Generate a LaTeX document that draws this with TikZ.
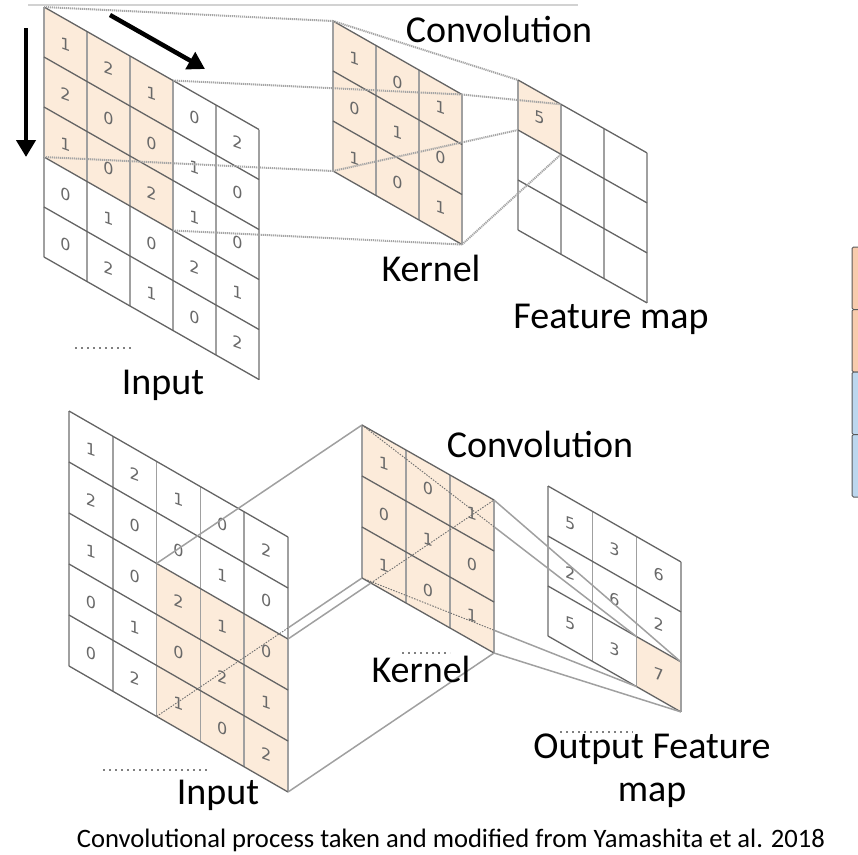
\documentclass[tikz,border=0pt]{standalone}
\usepackage{fontspec}
\setmainfont{Carlito}
\newfontfamily\digitfont{DejaVu Sans}
\usetikzlibrary{arrows.meta,calc}

\definecolor{cellhl}{RGB}{252,235,218}
\definecolor{gridv}{RGB}{160,160,160}
\definecolor{gridh}{RGB}{100,100,100}
\definecolor{digitgray}{RGB}{105,105,105}
\definecolor{linkgray}{RGB}{165,165,165}
\definecolor{hiddengray}{RGB}{110,110,110}
\definecolor{barorange}{RGB}{248,203,173}
\definecolor{barblue}{RGB}{189,215,238}
\definecolor{barline}{RGB}{90,90,90}

\tikzset{
  vline/.style={draw=gridv, line width=1.6pt},
  hline/.style={draw=gridh, line width=1.3pt},
  digit/.style={font=\digitfont\fontsize{16}{16}\selectfont, text=digitgray, inner sep=0pt, yslant=-0.35},
  bigtext/.style={font=\fontsize{38}{40}\selectfont, inner sep=0pt, anchor=base},
  captext/.style={font=\fontsize{26.6}{28}\selectfont, inner sep=0pt, anchor=base},
  dotlink/.style={draw=linkgray, line width=2pt, dash pattern=on 1.2pt off 0.8pt},
  solidlink/.style={draw=gridv, line width=1.5pt},
  hiddenlink/.style={draw=hiddengray, line width=0.9pt, dash pattern=on 1.5pt off 1.3pt},
  movearrow/.style={draw=black, line width=4.5pt, -{Triangle[width=19pt,length=17pt]}},
  barcell/.style={draw=barline, line width=1pt},
  scrap/.style={draw=gray, line width=1.6pt, dash pattern=on 2pt off 4pt},
}

\begin{document}
\begin{tikzpicture}[x=1pt,y=-1pt]
\useasboundingbox (0,0) rectangle (858,854);

% thin rule along the top edge
\draw[draw=gray!35, line width=1.2pt] (28,5) -- (578,5);

% ---------------- first step: window at the top-left corner ----------------
% input 5x5
\begin{scope}[shift={(44,7)}, x={(43pt,-24.5pt)}, y={(0pt,-50pt)}]
  \fill[cellhl] (0,0) -- (3,0) -- (3,3) -- (0,3) -- cycle;
  \foreach \i in {0,...,5} \draw[vline] (\i,0) -- (\i,5);
  \foreach \j in {0,...,5} \draw[hline] (0,\j) -- (5,\j);
  \foreach \row [count=\j from 0] in {{1,2,1,0,2},{2,0,0,1,0},{1,0,2,1,0},{0,1,0,2,1},{0,2,1,0,2}}
    \foreach \v [count=\i from 0] in \row
      \node[digit] (tin-\j-\i) at (\i+0.5,\j+0.5) {\v};
  \coordinate (tinTL) at (0,0);
  \coordinate (tinTR) at (3,0);
  \coordinate (tinBL) at (0,3);
  \coordinate (tinBR) at (3,3);
\end{scope}

% kernel 3x3
\begin{scope}[shift={(333,21)}, x={(43pt,-24.5pt)}, y={(0pt,-50pt)}]
  \fill[cellhl] (0,0) -- (3,0) -- (3,3) -- (0,3) -- cycle;
  \foreach \i in {0,...,3} \draw[vline] (\i,0) -- (\i,3);
  \foreach \j in {0,...,3} \draw[hline] (0,\j) -- (3,\j);
  \foreach \row [count=\j from 0] in {{1,0,1},{0,1,0},{1,0,1}}
    \foreach \v [count=\i from 0] in \row
      \node[digit] (tk-\j-\i) at (\i+0.5,\j+0.5) {\v};
  \coordinate (tkTL) at (0,0);
  \coordinate (tkTR) at (3,0);
  \coordinate (tkBL) at (0,3);
  \coordinate (tkBR) at (3,3);
\end{scope}

% feature map 3x3
\begin{scope}[shift={(518,80)}, x={(43pt,-24.3pt)}, y={(0pt,-50pt)}]
  \fill[cellhl] (0,0) -- (1,0) -- (1,1) -- (0,1) -- cycle;
  \foreach \i in {0,...,3} \draw[vline] (\i,0) -- (\i,3);
  \foreach \j in {0,...,3} \draw[hline] (0,\j) -- (3,\j);
  \node[digit] (tf-0-0) at (0.5,0.5) {5};
  \coordinate (tfTL) at (0,0);
  \coordinate (tfTR) at (1,0);
  \coordinate (tfBL) at (0,1);
  \coordinate (tfBR) at (1,1);
\end{scope}

% projection lines
\draw[dotlink] (tinTL) -- (tkTL);
\draw[dotlink] (tinTR) -- (tkTR);
\draw[dotlink] (tinBL) -- (tkBL);
\draw[dotlink] (tinBR) -- (tkBR);
\draw[dotlink] (tkTL) -- (tfTL);
\draw[dotlink] (tkTR) -- (tfTR);
\draw[dotlink] (tkBL) -- (tfBL);
\draw[dotlink] (tkBR) -- (tfBR);

% sliding directions
\coordinate (downA) at (26,28);
\coordinate (downB) at (26,157);
\coordinate (diagA) at (110,15);
\coordinate (diagB) at (205,69);
\draw[movearrow] (downA) -- (downB);
\draw[movearrow] (diagA) -- (diagB);

% labels
\node[bigtext] (convTop) at (499,42) {Convolution};
\node[bigtext] (kernTop) at (431,281) {Kernel};
\node[bigtext] (featTop) at (611,328) {Feature map};
\node[bigtext] (inTop) at (163,394) {Input};
\draw[scrap] (75,348) -- (133,348);

% stacked bar at the right edge
\begin{scope}
  \clip (0,0) rectangle (858,854);
  \filldraw[barcell, fill=barorange, rounded corners=1.5pt] (852,247) rectangle (872,309.5);
  \filldraw[barcell, fill=barorange, rounded corners=1.5pt] (852,309.5) rectangle (872,372);
  \filldraw[barcell, fill=barblue, rounded corners=1.5pt] (852,372) rectangle (872,434.5);
  \filldraw[barcell, fill=barblue, rounded corners=1.5pt] (852,434.5) rectangle (872,497);
\end{scope}

% ---------------- last step: window at the bottom-right corner ----------------
% input 5x5
\begin{scope}[shift={(69,411)}, x={(43.8pt,-25.2pt)}, y={(0pt,-51pt)}]
  \fill[cellhl] (2,2) -- (5,2) -- (5,5) -- (2,5) -- cycle;
  \foreach \i in {0,...,5} \draw[vline] (\i,0) -- (\i,5);
  \foreach \j in {0,...,5} \draw[hline] (0,\j) -- (5,\j);
  \foreach \row [count=\j from 0] in {{1,2,1,0,2},{2,0,0,1,0},{1,0,2,1,0},{0,1,0,2,1},{0,2,1,0,2}}
    \foreach \v [count=\i from 0] in \row
      \node[digit] (bin-\j-\i) at (\i+0.5,\j+0.5) {\v};
  \coordinate (binTL) at (2,2);
  \coordinate (binTR) at (5,2);
  \coordinate (binBL) at (2,5);
  \coordinate (binBR) at (5,5);
  \coordinate (binEdgeTop) at (5,0);
\end{scope}

% kernel 3x3
\begin{scope}[shift={(362,425)}, x={(44pt,-25pt)}, y={(0pt,-51pt)}]
  \fill[cellhl] (0,0) -- (3,0) -- (3,3) -- (0,3) -- cycle;
  \foreach \i in {0,...,3} \draw[vline] (\i,0) -- (\i,3);
  \foreach \j in {0,...,3} \draw[hline] (0,\j) -- (3,\j);
  \foreach \row [count=\j from 0] in {{1,0,1},{0,1,0},{1,0,1}}
    \foreach \v [count=\i from 0] in \row
      \node[digit] (bk-\j-\i) at (\i+0.5,\j+0.5) {\v};
  \coordinate (bkTL) at (0,0);
  \coordinate (bkTR) at (3,0);
  \coordinate (bkBL) at (0,3);
  \coordinate (bkBR) at (3,3);
\end{scope}

% output feature map 3x3
\begin{scope}[shift={(548,486)}, x={(44.3pt,-25.3pt)}, y={(0pt,-50pt)}]
  \fill[cellhl] (2,2) -- (3,2) -- (3,3) -- (2,3) -- cycle;
  \foreach \i in {0,...,3} \draw[vline] (\i,0) -- (\i,3);
  \foreach \j in {0,...,3} \draw[hline] (0,\j) -- (3,\j);
  \foreach \row [count=\j from 0] in {{5,3,6},{2,6,2},{5,3,7}}
    \foreach \v [count=\i from 0] in \row
      \node[digit] (bf-\j-\i) at (\i+0.5,\j+0.5) {\v};
  \coordinate (bfTL) at (2,2);
  \coordinate (bfTR) at (3,2);
  \coordinate (bfBL) at (2,3);
  \coordinate (bfBR) at (3,3);
\end{scope}

% projection lines, input to kernel
\draw[solidlink] (binTL) -- (bkTL);
\coordinate (crossA) at (intersection of binTR--bkTR and bkBL--bkBR);
\draw[solidlink] (binTR) -- (crossA);
\draw[hiddenlink] (crossA) -- (bkTR);
\coordinate (crossB) at (intersection of binBL--bkBL and binEdgeTop--binBR);
\draw[hiddenlink] (binBL) -- (crossB);
\draw[solidlink] (crossB) -- (bkBL);
\draw[solidlink] (binBR) -- (bkBR);

% projection lines, kernel to output cell
\coordinate (crossC) at (intersection of bkTL--bfTL and bkTR--bkBR);
\draw[hiddenlink] (bkTL) -- (crossC);
\draw[solidlink] (crossC) -- (bfTL);
\draw[solidlink] (bkTR) -- (bfTR);
\coordinate (crossD) at (intersection of bkBL--bfBL and bkTR--bkBR);
\draw[hiddenlink] (bkBL) -- (crossD);
\draw[solidlink] (crossD) -- (bfBL);
\draw[solidlink] (bkBR) -- (bfBR);

% labels
\node[bigtext] (convBot) at (540,457) {Convolution};
\node[bigtext] (kernBot) at (421,682) {Kernel};
\node[bigtext] (outFeat) at (652,758) {Output Feature};
\node[bigtext] (outMap) at (652,801) {map};
\node[bigtext] (inBot) at (218,804) {Input};
\draw[scrap] (103,770) -- (207,770);
\draw[scrap] (402,653) -- (450,653);
\draw[scrap] (560,732) -- (633,732);

\node[captext] (caption) at (451,847) {Convolutional process taken and modified from Yamashita et al. 2018};
\end{tikzpicture}
\end{document}
